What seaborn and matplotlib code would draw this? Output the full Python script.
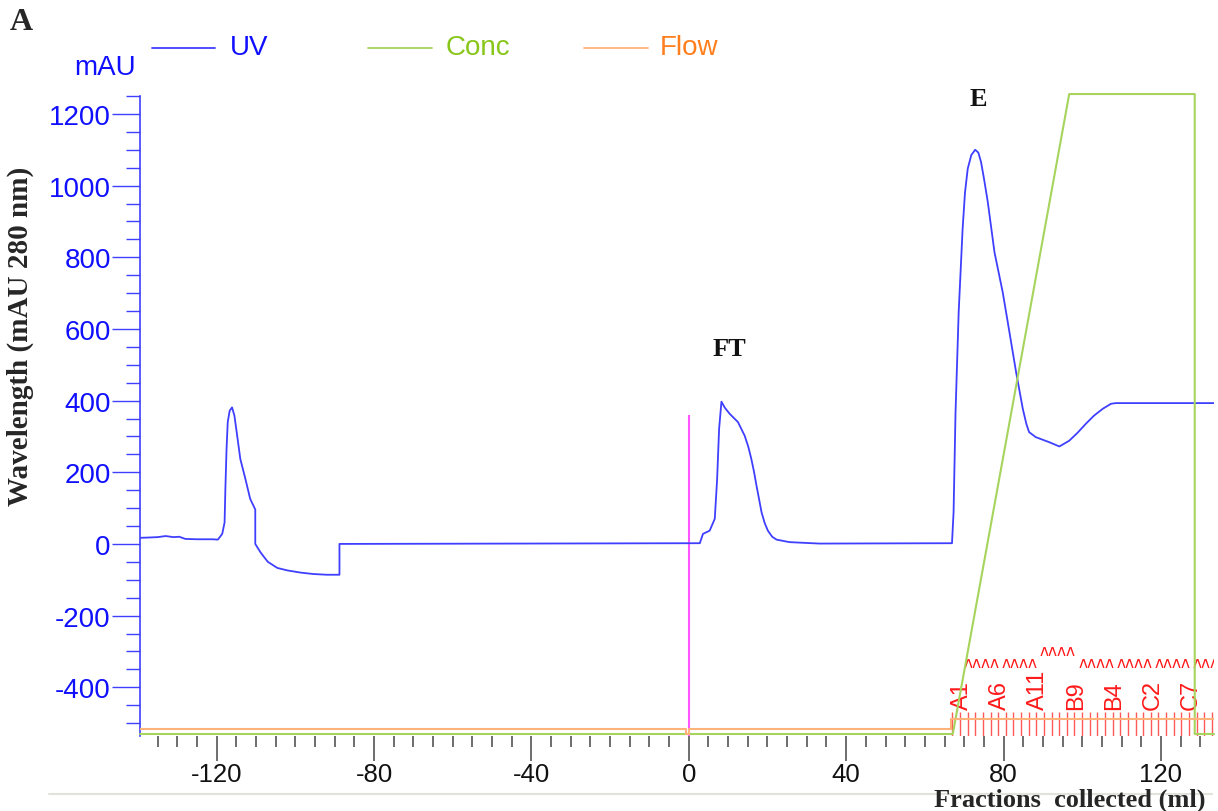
import numpy as np
import pandas as pd
import matplotlib
matplotlib.use("Agg")
import matplotlib.pyplot as plt
from matplotlib.lines import Line2D
from matplotlib.ticker import MultipleLocator
import seaborn as sns

# UV trace (ml, mAU)
uv_ml = [-139.5, -137, -135, -133, -131, -129.5, -128, -125, -121, -119.7,
         -118.6, -118.0, -117.8, -117.5, -117.2, -116.7, -116.1, -115.5, -114.8,
         -114.0, -112.7, -111.5, -110.2, -110.2, -108.9, -108.0, -107.0, -104.6,
         -102, -98.7, -95.4, -92, -88.8, -88.8,
         2.8, 3.6, 5.3, 6.6, 7.2, 7.7, 8.3, 9.1, 10.4, 12.5, 14.2, 15.1, 15.9,
         16.6, 17.2, 18.5, 19.3, 20.1, 21.2, 22.3, 25.6, 33.2,
         66.9, 67.3, 67.8, 68.6, 69.6, 70.2, 70.9, 71.8, 72.8, 73.6, 74.3, 75.1,
         76.0, 77.7, 79.8, 81.5, 83.2, 84.9, 85.8, 86.5, 88.2, 91.6, 94.2, 96.7,
         98.8, 100.9, 103.0, 105.2, 107.3, 108.5, 133.5]
uv_mau = [17, 18, 19, 22, 19, 20, 14, 13, 13, 12,
          28, 60, 153, 265, 340, 372, 381, 358, 302,
          237, 181, 126, 96, 0, -23, -36, -50, -67,
          -74, -80, -84, -86, -86, 0,
          2, 28, 37, 70, 181, 321, 397, 381, 363, 340, 302, 272, 237,
          200, 163, 88, 58, 37, 20, 12, 5, 1,
          2, 88, 367, 647, 879, 980, 1047, 1085, 1100, 1092, 1065, 1015,
          954, 814, 702, 591, 479, 377, 335, 312, 298, 284, 272, 288,
          310, 335, 358, 377, 391, 393, 393]

# gradient concentration (% B)
conc_ml = [-139.5, 67.1, 96.7, 128.6, 128.6, 133.5]
conc_pct = [0, 0, 100, 100, 0, 0]

# flow (ml/min)
flow_ml = [-139.5, -0.6, -0.6, 0.1, 0.1, 66.6, 66.6, 133.5]
flow_rate = [1.0, 1.0, 0.0, 0.0, 1.0, 1.0, 3.0, 3.0]

injection_ml = 0
injection_top = 360

# fractions
frac_start = 67.0
frac_width = 1.94
n_frac = 35
frac_labels = ["A1", "A6", "A11", "B9", "B4", "C2", "C7"]
label_every = 5

peak_names = ["FT", "E"]
peak_ml = [10.2, 73.6]
peak_mau = [544, 1242]

uv_col = "#3f3fff"
blue_txt = "#1010ff"
conc_col = "#a6d45c"
flow_col = "#ffb27a"
red = "#ff1a1a"

sns.set_theme(style="white")
plt.rcParams["font.family"] = ["Liberation Sans", "DejaVu Sans"]
plt.rcParams["axes.unicode_minus"] = False

fig = plt.figure(figsize=(12.18, 8.12), dpi=100)
ax = fig.add_axes([140 / 1218, 75 / 812, 1074 / 1218, 640 / 812])

uv = pd.DataFrame({"ml": uv_ml, "mAU": uv_mau})
sns.lineplot(data=uv, x="ml", y="mAU", ax=ax, color=uv_col, lw=1.3,
             estimator=None, sort=False, zorder=4)

ax.vlines(injection_ml, -536, injection_top, color="#ff55ff", lw=1.5, zorder=3)

ax.set_xlim(-139.5, 133.5)
ax.set_ylim(-536, 1250)
ax.xaxis.set_minor_locator(MultipleLocator(5))
ax.yaxis.set_minor_locator(MultipleLocator(50))
ax.set_yticks(np.arange(-400, 1201, 200))
ax.set_xticks(np.arange(-120, 121, 40))
ax.tick_params(axis="y", which="major", length=20, width=1, color=uv_col,
               labelcolor=blue_txt, labelsize=20, left=True, pad=1)
ax.tick_params(axis="y", which="minor", length=10, width=1, color=uv_col, left=True)
ax.tick_params(axis="x", which="major", length=18, width=1.2, color="#555555",
               labelcolor="#111111", labelsize=18.5, bottom=True, pad=1)
ax.tick_params(axis="x", which="minor", length=8, width=1.2, color="#555555", bottom=True)
for s in ["top", "right", "bottom"]:
    ax.spines[s].set_visible(False)
ax.spines["left"].set_color(uv_col)
ax.spines["left"].set_linewidth(1.2)
ax.set_xlabel("")
ax.set_ylabel("")

# fraction marks
edges = frac_start + frac_width * np.arange(n_frac)
ax.vlines(edges, -536, -469, color="#ff5a5a", lw=1, zorder=2)
for k, lab in enumerate(frac_labels):
    x0 = frac_start + k * label_every * frac_width + 2.4
    ax.text(x0, -462, lab, rotation=90, ha="center", va="bottom", color=red,
            fontsize=17)
    gx = x0 + 2.6 * frac_width
    gy = -298 if k == 2 else -332
    ax.text(gx, gy, "ʌʌʌʌ", ha="center", va="center", color=red, fontsize=11,
            family="DejaVu Sans", clip_on=True)

for name, x, y in zip(peak_names, peak_ml, peak_mau):
    ax.text(x, y, name, ha="center", va="center", fontsize=19, fontweight="bold",
            family="Liberation Serif", color="#111111")

# concentration and flow on hidden axes
ax_c = ax.twinx()
sns.lineplot(x=conc_ml, y=conc_pct, ax=ax_c, color=conc_col, lw=1.5,
             estimator=None, sort=False)
ax_c.set_ylim(-0.3125, 99.69)
ax_c.set_xlim(ax.get_xlim())
ax_c.axis("off")
for ln in ax_c.lines:
    ln.set_clip_on(False)

ax_f = ax.twinx()
sns.lineplot(x=flow_ml, y=flow_rate, ax=ax_f, color=flow_col, lw=1.5,
             estimator=None, sort=False)
ax_f.set_ylim(-0.4, 127.6)
ax_f.set_xlim(ax.get_xlim())
ax_f.axis("off")

# legend row
H, W = 812, 1218
for (x0, x1, tx, lab, lc, tc) in [(152, 215, 230, "UV", uv_col, blue_txt),
                                   (368, 432, 446, "Conc", conc_col, "#88c61a"),
                                   (584, 648, 660, "Flow", flow_col, "#ff7f1e")]:
    fig.add_artist(Line2D([x0 / W, x1 / W], [1 - 49 / H, 1 - 49 / H], color=lc, lw=1.3))
    fig.text(tx / W, 1 - 48 / H, lab, color=tc, fontsize=20, va="center", ha="left")
fig.text(136 / W, 1 - 68 / H, "mAU", color=blue_txt, fontsize=20, va="center", ha="right")

fig.text(10 / W, 1 - 22 / H, "A", fontsize=23, fontweight="bold",
         family="Liberation Serif", va="center", ha="left")
fig.text(20 / W, 1 - 336 / H, "Wavelength (mAU 280 nm)", rotation=90, fontsize=21,
         fontweight="bold", family="Liberation Serif", va="center", ha="center")
fig.add_artist(Line2D([49 / W, 1212 / W], [1 - 795 / H, 1 - 795 / H],
                      color="#e2e2da", lw=1.5, zorder=0))
fig.text(1070 / W, 1 - 800 / H, "Fractions  collected (ml)", fontsize=19,
         fontweight="bold", family="Liberation Serif", va="center", ha="center")

fig.savefig("out.png", dpi=100)
